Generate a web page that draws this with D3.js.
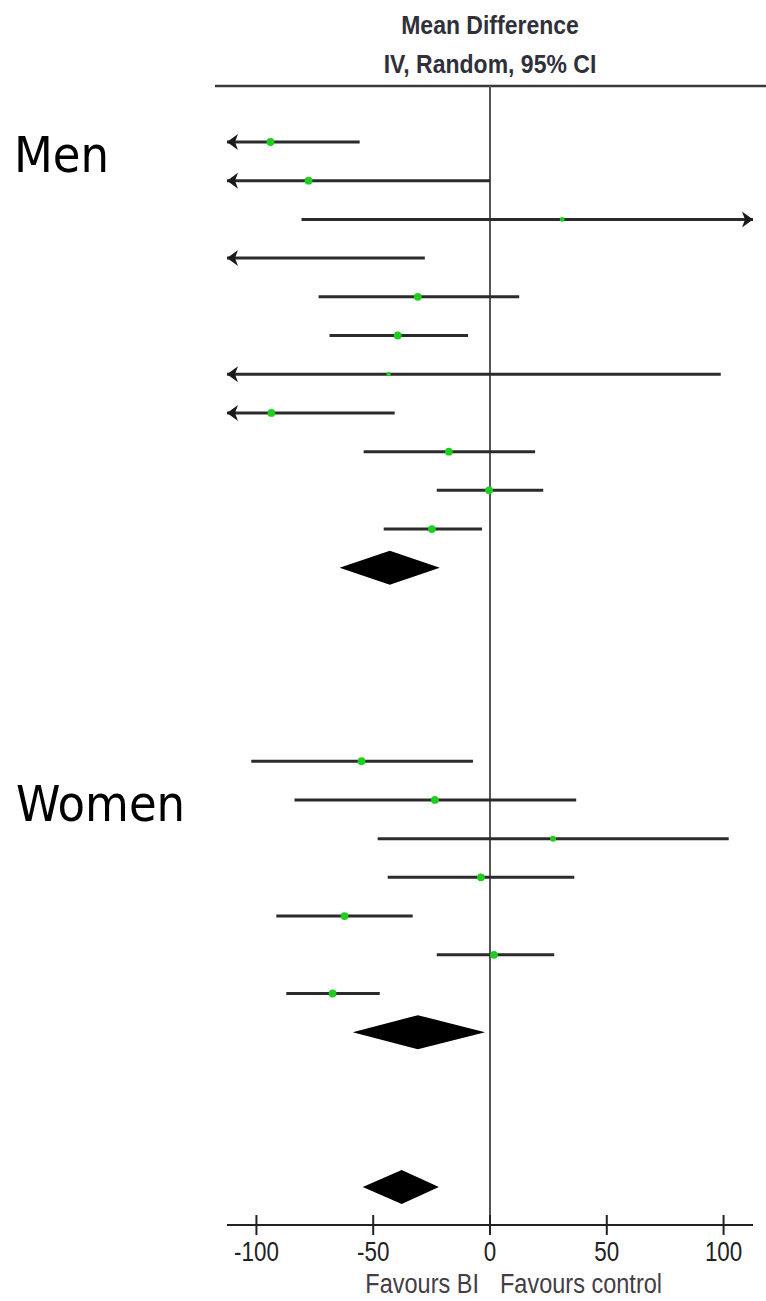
<!DOCTYPE html>
<html>
<head>
<meta charset="utf-8">
<script src="https://cdn.jsdelivr.net/npm/d3@7"></script>
<style>
  body { margin: 0; background: #fff; }
  svg { display: block; }
</style>
</head>
<body>
<svg width="766" height="1301"></svg>
<script>
// mean difference with 95% CI (values past the axis end are estimates)
const menMean = [-94.0, -77.7, 30.9, -120.0, -30.9, -39.5, -43.4, -93.6, -17.6, -0.4, -24.9];
const menLow = [-132.2, -155.4, -80.7, -212.1, -73.4, -68.7, -185.6, -146.4, -54.1, -22.8, -45.5];
const menHigh = [-55.8, 0.0, 142.5, -27.9, 12.5, -9.4, 98.8, -40.8, 19.3, 22.8, -3.4];
const menWeight = [10, 10, 4, 8, 10, 10, 3, 10, 10, 10, 10];
const menTotal = [-42.9, -64.4, -21.5]; // mean, low, high

const womenMean = [-55.0, -23.6, 27.0, -3.9, -62.3, 1.7, -67.4];
const womenLow = [-102.2, -83.7, -48.1, -43.8, -91.5, -22.8, -87.2];
const womenHigh = [-7.3, 36.9, 102.2, 36.1, -33.1, 27.5, -47.2];
const womenWeight = [10, 10, 6, 10, 10, 10, 10];
const womenTotal = [-30.9, -58.8, -2.1];

const overallTotal = [-37.8, -54.5, -21.9];

const xTicks = [-100, -50, 0, 50, 100];
const headerLines = ['Mean Difference', 'IV, Random, 95% CI'];
const leftLabel = 'Favours BI';
const rightLabel = 'Favours control';

const svg = d3.select('svg');

const x = d3.scaleLinear()
  .domain([-112.6, 112.6])
  .range([227, 753]);

// one row per line of the forest plot
const row = d3.scaleLinear()
  .domain([0, 27])
  .range([142, 1187]);

const radius = d3.scaleSqrt()
  .domain([0, 10])
  .range([0, 3.9]);

const studies = [];
menMean.forEach((m, i) => studies.push({
  row: i, mean: m, lo: menLow[i], hi: menHigh[i], w: menWeight[i]
}));
womenMean.forEach((m, i) => studies.push({
  row: 16 + i, mean: m, lo: womenLow[i], hi: womenHigh[i], w: womenWeight[i]
}));

const totals = [
  {row: 11, v: menTotal},
  {row: 23, v: womenTotal},
  {row: 27, v: overallTotal}
];

const [xMin, xMax] = x.domain();
const axisY = 1225;
const headerY = 86;
const narrow = '"Liberation Sans", Arial, sans-serif';

// header
svg.append('g')
  .selectAll('text')
  .data(headerLines)
  .enter().append('text')
    .attr('transform', (d, i) => `translate(${x(0)},${34 + i * 39}) scale(0.92,1)`)
    .attr('text-anchor', 'middle')
    .attr('font-family', narrow)
    .attr('font-weight', 'bold')
    .attr('font-size', 25)
    .attr('fill', '#30303a')
    .text(d => d);

svg.append('line')
  .attr('x1', 215).attr('x2', 766)
  .attr('y1', headerY).attr('y2', headerY)
  .attr('stroke', '#3a3a3a')
  .attr('stroke-width', 2.5);

// line of no effect
svg.append('line')
  .attr('x1', x(0)).attr('x2', x(0))
  .attr('y1', headerY).attr('y2', axisY)
  .attr('stroke', '#555')
  .attr('stroke-width', 2);

// group labels
svg.append('g')
  .selectAll('text')
  .data([{t: 'Men', x: 14, y: 172}, {t: 'Women', x: 16, y: 821}])
  .enter().append('text')
    .attr('x', d => d.x)
    .attr('y', d => d.y)
    .attr('font-family', '"DejaVu Sans Condensed", "DejaVu Sans", sans-serif')
    .attr('font-stretch', 'condensed')
    .attr('font-size', 50)
    .attr('fill', '#000')
    .text(d => d.t);

// confidence intervals
const ci = svg.append('g')
  .selectAll('g')
  .data(studies)
  .enter().append('g');

ci.append('line')
  .attr('x1', d => x(Math.max(d.lo, xMin)))
  .attr('x2', d => x(Math.min(d.hi, xMax)))
  .attr('y1', d => row(d.row))
  .attr('y2', d => row(d.row))
  .attr('stroke', '#2b2b2b')
  .attr('stroke-width', 3);

function arrow(tipX, y, dir) {
  // dir -1 points left, 1 points right
  return `M${tipX},${y}L${tipX - dir * 11},${y - 8}L${tipX - dir * 8},${y}L${tipX - dir * 11},${y + 8}Z`;
}

ci.filter(d => d.lo < xMin)
  .append('path')
    .attr('d', d => arrow(x(xMin), row(d.row), -1))
    .attr('fill', '#1a1a1a');

ci.filter(d => d.hi > xMax)
  .append('path')
    .attr('d', d => arrow(x(xMax), row(d.row), 1))
    .attr('fill', '#1a1a1a');

ci.filter(d => d.mean >= xMin && d.mean <= xMax)
  .append('circle')
    .attr('cx', d => x(d.mean))
    .attr('cy', d => row(d.row))
    .attr('r', d => radius(d.w))
    .attr('fill', '#1fcf1f');

// pooled estimates
svg.append('g')
  .selectAll('path')
  .data(totals)
  .enter().append('path')
    .attr('d', d => {
      const y = row(d.row);
      const h = 17;
      return `M${x(d.v[1])},${y}L${x(d.v[0])},${y - h}L${x(d.v[2])},${y}L${x(d.v[0])},${y + h}Z`;
    })
    .attr('fill', '#000');

// axis
const axis = svg.append('g')
  .attr('transform', `translate(0,${axisY})`);

axis.append('line')
  .attr('x1', x(xMin)).attr('x2', x(xMax))
  .attr('stroke', '#222')
  .attr('stroke-width', 2);

axis.selectAll('.tick')
  .data(xTicks)
  .enter().append('line')
    .attr('class', 'tick')
    .attr('x1', d => x(d)).attr('x2', d => x(d))
    .attr('y1', -10).attr('y2', 10)
    .attr('stroke', '#222')
    .attr('stroke-width', 2);

axis.selectAll('.label')
  .data(xTicks)
  .enter().append('text')
    .attr('class', 'label')
    .attr('transform', d => `translate(${x(d)},36) scale(0.8,1)`)
    .attr('text-anchor', 'middle')
    .attr('font-family', narrow)
    .attr('font-size', 28)
    .attr('fill', '#222')
    .text(d => d);

axis.append('text')
  .attr('transform', `translate(${x(0) - 11},68) scale(0.84,1)`)
  .attr('text-anchor', 'end')
  .attr('font-family', narrow)
  .attr('font-size', 28)
  .attr('fill', '#463c46')
  .text(leftLabel);

axis.append('text')
  .attr('transform', `translate(${x(0) + 10},68) scale(0.84,1)`)
  .attr('font-family', narrow)
  .attr('font-size', 28)
  .attr('fill', '#463c46')
  .text(rightLabel);
</script>
</body>
</html>
